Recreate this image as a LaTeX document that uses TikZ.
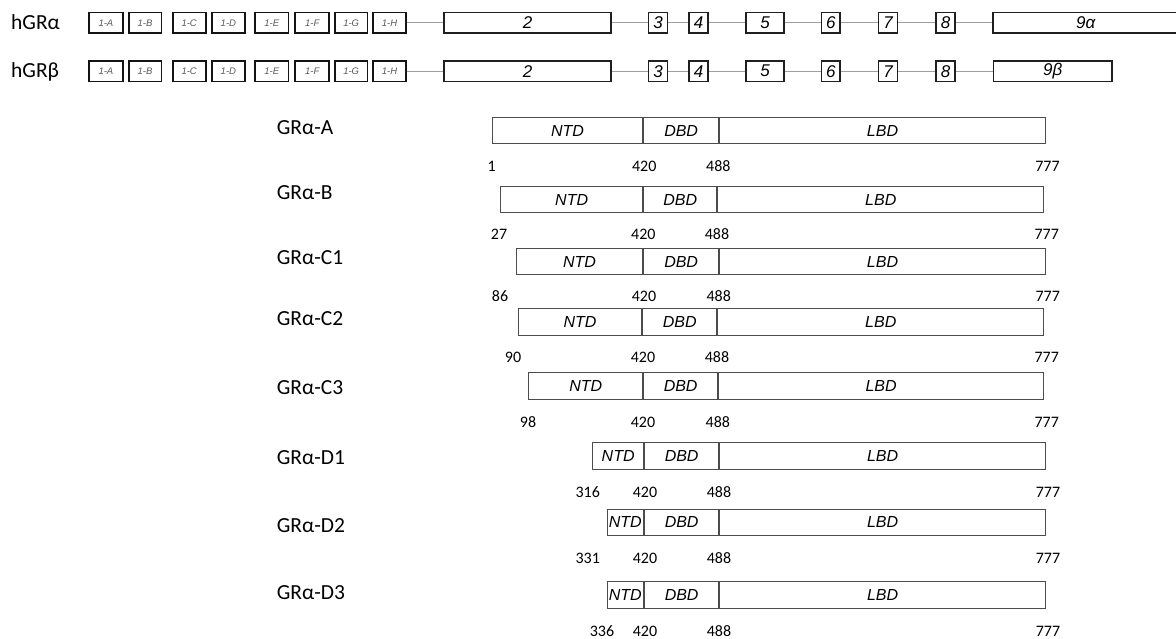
\documentclass[tikz,border=0pt]{standalone}
\usepackage{fontspec}
\setmainfont{Liberation Sans}
\newfontfamily\calfont{Carlito}
\begin{document}
\begin{tikzpicture}[x=1pt,y=-1pt,
  exon/.style={draw=black!88, line width=1.6pt, fill=white, inner sep=0pt,
    minimum height=20.7pt, font=\fontsize{17}{17}\selectfont\itshape},
  exsmall/.style={exon, draw=black!92, line width=1.8pt, text=black!65,
    font=\fontsize{9.5}{9.5}\selectfont\itshape},
  intron/.style={draw=black!38, line width=1.3pt},
  prot/.style={draw=black!70, line width=0.9pt, inner sep=0pt,
    font=\fontsize{16}{16}\selectfont\itshape},
  lab/.style={font=\calfont\fontsize{21.5}{21.5}\selectfont, anchor=base west, inner sep=0pt},
  num/.style={font=\calfont\fontsize{16}{16}\selectfont, anchor=base, inner sep=0pt}]
\useasboundingbox (0,0) rectangle (1176,639);
\fill[white] (0,0) rectangle (1176,639);

% gene structures
\node[lab] (hgra) at (11,29.4) {hGRα};
\node[lab] (hgrb) at (11,77.8) {hGRβ};
\foreach \r/\yy in {a/22.8, b/71.2} {
  \foreach \k/\cx/\w in {A/105.9/34.5, B/145/32.8, C/189.2/33.2, D/228.4/33.5,
                         E/271.8/33.2, F/312.2/33.9, G/351.2/32.5, H/389.5/32.6}
    \node[exsmall, minimum width=\w pt] (\r1\k) at (\cx,\yy) {1-\k};
  \foreach \k/\cx/\w in {2/527.7/167.1, 3/658/19, 4/698.7/19.1, 5/765.2/38.1,
                         6/830.8/18.7, 7/888/19, 8/945.5/19.4}
    \node[exon, minimum width=\w pt] (\r\k) at (\cx,\yy) {\k};
}
\node[exon, minimum width=185pt] (a9) at (1085.7,22.8) {9α};
\node[exon, minimum width=118.4pt] (b9) at (1052.7,71.2) {9β};
\foreach \r in {a,b}
  \foreach \p/\q in {1H/2, 2/3, 3/4, 4/5, 5/6, 6/7, 7/8, 8/9}
    \draw[intron] (\r\p) -- (\r\q);

% protein isoforms
\foreach \n/\ya/\yb/\xa/\xb/\xc/\xd/\first/\fx/\ix/\ex/\sx/\nb/\lb in {
  A/117.3/144.3/491.7/643.3/719/1046/1/491.7/644.2/718.3/1047.5/171.7/135,
  B/186/213.3/500/643.3/717.3/1044.3/27/499/643.3/717/1046.7/239.3/200,
  C1/247.7/275.3/515.7/643.3/719/1046/86/500/644/718.7/1047.7/301.7/265,
  C2/308.3/336/517.7/642.3/717.3/1044.3/90/513/643/717/1046.7/362.3/325,
  C3/372.3/400.3/528.3/643.3/718/1044.3/98/528/643/717.8/1046.7/427.3/394,
  D1/442.3/470.3/592.3/644/719.3/1046/316/587.7/645/719/1048/497.3/464,
  D2/508.7/536/606.7/644/719.3/1046/331/587.7/645/719/1048/563.3/532.3,
  D3/581/609.3/606.7/644/719.3/1046/336/602/645/719/1048/636/599} {
  \pgfmathsetmacro\hh{\yb-\ya-0.9}
  \pgfmathsetmacro\cy{(\ya+\yb)/2}
  \pgfmathsetmacro\wa{\xb-\xa-0.9}
  \pgfmathsetmacro\ca{(\xa+\xb)/2}
  \pgfmathsetmacro\wb{\xc-\xb-0.9}
  \pgfmathsetmacro\cb{(\xb+\xc)/2}
  \pgfmathsetmacro\wc{\xd-\xc-0.9}
  \pgfmathsetmacro\cc{(\xc+\xd)/2}
  \node[lab] (lab\n) at (276.7,\lb) {GRα-\n};
  \node[prot, minimum width=\wa pt, minimum height=\hh pt] (ntd\n) at (\ca,\cy) {NTD};
  \node[prot, minimum width=\wb pt, minimum height=\hh pt] (dbd\n) at (\cb,\cy) {DBD\hspace{17pt}};
  \node[prot, minimum width=\wc pt, minimum height=\hh pt] (lbd\n) at (\cc,\cy) {LBD};
  \node[num] (s\n) at (\fx,\nb) {\first};
  \node[num] (p\n) at (\ix,\nb) {420};
  \node[num] (q\n) at (\ex,\nb) {488};
  \node[num] (e\n) at (\sx,\nb) {777};
}
\end{tikzpicture}
\end{document}
